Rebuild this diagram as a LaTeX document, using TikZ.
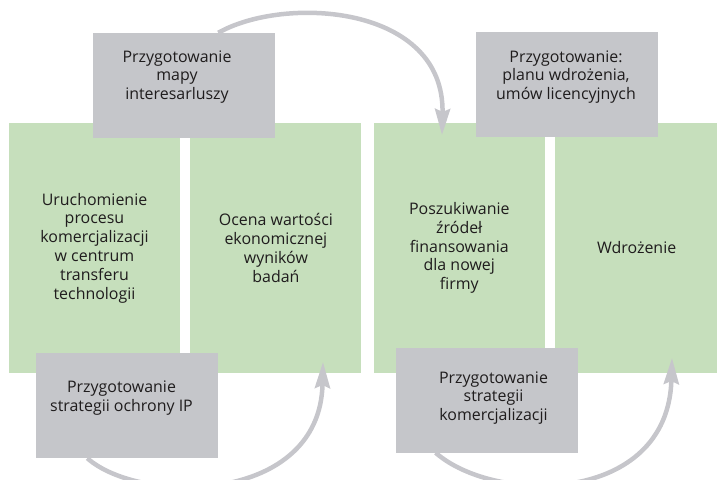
\documentclass[tikz,border=0pt]{standalone}
\usepackage{fontspec}
\setmainfont{Open Sans}
\usetikzlibrary{arrows.meta,positioning}
\definecolor{etapgreen}{HTML}{C6DFBC}
\definecolor{etapgrey}{HTML}{C5C6CA}
\definecolor{lukgrey}{HTML}{C6C6CB}
\definecolor{tekst}{HTML}{1F1C1D}

\begin{document}
\begin{tikzpicture}[x=1bp, y=-1bp, node distance=10bp,
  every node/.style={font=\fontsize{16}{18.9}\selectfont, text=tekst},
  etap/.style={fill=etapgreen, align=center, minimum width=171bp, minimum height=250bp, inner sep=0pt},
  zad/.style={fill=etapgrey, minimum width=182bp, minimum height=105bp, inner sep=0pt},
  opis/.style={align=center, inner sep=0pt},
  luk/.style={lukgrey, line width=4.5bp, -{Stealth[length=26bp, width=15bp, inset=3bp]}}]
\useasboundingbox (0,0) rectangle (717,480);
% etapy
\node[etap] (uruch) at (94.5,248) {Uruchomienie\\procesu\\komercjalizacji\\w centrum\\transferu\\technologii};
\node[etap, right=of uruch] (ocena) {Ocena wartości\\ekonomicznej\\wyników\\badań};
\node[etap, right=12bp of ocena] (poszuk) {Poszukiwanie\\źródeł\\finansowania\\dla nowej\\firmy};
\node[etap, right=of poszuk, minimum width=163bp] (wdroz) {Wdrożenie};
% zadania
\node[zad] (mapa) at (184,85.5) {};
\node[opis] (mapa-t) at (177,77) {Przygotowanie\\mapy\\interesarluszy};
\node[zad] (plan) at (567,84.5) {};
\node[opis] (plan-t) at (566,77) {Przygotowanie:\\planu wdrożenia,\\umów licencyjnych};
\node[zad] (ip) at (127,405.5) {};
\node[opis] (ip-t) at (121.5,398) {Przygotowanie\\strategii ochrony IP};
\node[zad] (komerc) at (486.5,400) {};
\node[opis] (komerc-t) at (493.5,398) {Przygotowanie\\strategii\\komercjalizacji};
% strzalki
\coordinate (do-poszuk) at (442,135);
\coordinate (do-ocena) at (323,362);
\coordinate (do-wdroz) at (672,358);
\draw[luk] (mapa.57) .. controls (285,-5) and (445,5) .. (do-poszuk);
\draw[luk] (ip.233) .. controls (140,505) and (320,505) .. (do-ocena);
\draw[luk] (komerc.226) .. controls (495,505) and (668,505) .. (do-wdroz);
\end{tikzpicture}
\end{document}
